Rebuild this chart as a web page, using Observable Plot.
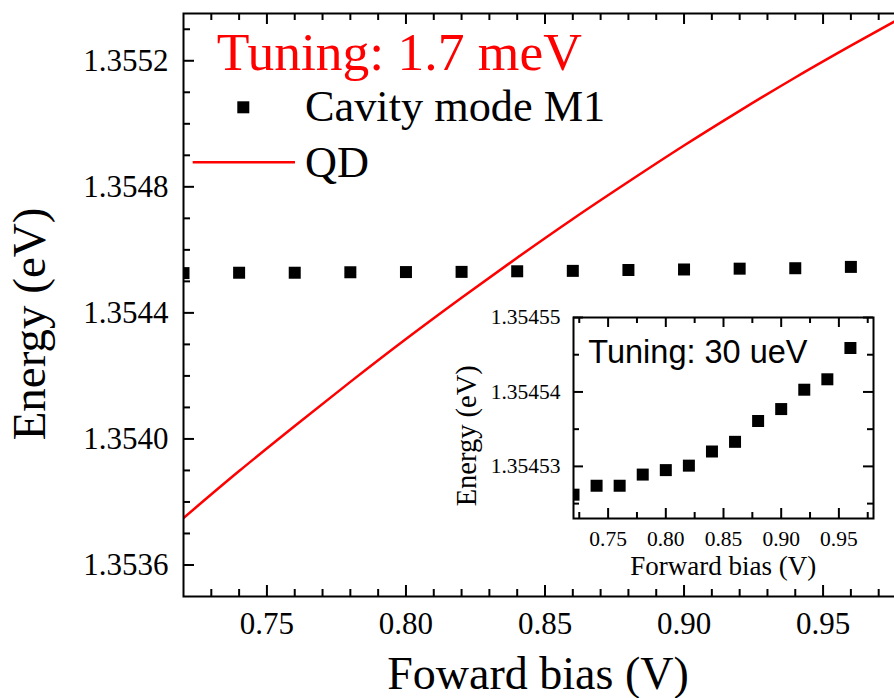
<!DOCTYPE html>
<html><head><meta charset="utf-8">
<script src="https://cdn.jsdelivr.net/npm/d3@7"></script>
<script src="https://cdn.jsdelivr.net/npm/@observablehq/plot@0.6"></script>
<style>
html,body{margin:0;padding:0;background:#fff;overflow:hidden;width:894px;height:698px;}
#wrap{position:relative;width:894px;height:698px;overflow:hidden;background:#fff;}
#wrap svg{position:absolute;overflow:visible;}
#wrap svg text{font-family:'Liberation Serif','Times New Roman',serif !important;font-variant:normal !important;}
#wrap svg text.sans{font-family:'Liberation Sans',Arial,sans-serif !important;}
</style></head><body><div id="wrap"></div>
<script>
// ---- data ----
const bias = [0.72,0.74,0.76,0.78,0.80,0.82,0.84,0.86,0.88,0.90,0.92,0.94,0.96];
const cavityEnergy = [1.3545262,1.3545274,1.3545274,1.3545289,1.3545295,1.3545301,1.3545320,1.3545333,1.3545361,1.3545377,1.3545403,1.3545417,1.3545459];
const qdBias = [0.72,0.74,0.76,0.78,0.80,0.82,0.84,0.86,0.88,0.90,0.92,0.94,0.96,0.98];
const qdEnergy = [1.353749,1.353898,1.354041,1.354181,1.354317,1.354448,1.354575,1.354698,1.354816,1.354931,1.355041,1.355147,1.355248,1.355346];

// ---- ticks / labels ----
const mainXTicks = [0.75,0.80,0.85,0.90,0.95];
const mainXMinor = [0.73,0.74,0.76,0.77,0.78,0.79,0.81,0.82,0.83,0.84,0.86,0.87,0.88,0.89,0.91,0.92,0.93,0.94,0.96,0.97];
const mainYTicks = [1.3536,1.3540,1.3544,1.3548,1.3552];
const mainYMinor = [1.3537,1.3538,1.3539,1.3541,1.3542,1.3543,1.3545,1.3546,1.3547,1.3549,1.3550,1.3551,1.3553];
const insetXTicks = [0.75,0.80,0.85,0.90,0.95];
const insetXMinor = [0.725,0.775,0.825,0.875,0.925,0.975];
const insetYTicks = [1.35453,1.35454,1.35455];
const insetYMinor = [1.354525,1.354535,1.354545];

const mainTitle = "Tuning: 1.7 meV";
const seriesNames = ["Cavity mode M1", "QD"];
const xLabel = "Foward bias (V)";
const yLabel = "Energy (eV)";
const insetNote = "Tuning: 30 ueV";
const insetXLabel = "Forward bias (V)";
const insetYLabel = "Energy (eV)";

const cavity = bias.map((b,i)=>({bias:b, energy:cavityEnergy[i]}));
const qd = qdBias.map((b,i)=>({bias:b, energy:qdEnergy[i]}));

const serif = "'Liberation Serif','Times New Roman',serif";
const wrap = document.getElementById("wrap");

function addText(sel, {x, y, text, size, cls = null, fill = "black", anchor = "start", rotate = 0}) {
  return sel.append("text")
    .attr("class", cls)
    .attr("transform", `translate(${x},${y})` + (rotate ? ` rotate(${rotate})` : ""))
    .attr("text-anchor", anchor).attr("font-size", size)
    .attr("fill", fill).attr("stroke", "none").text(text);
}

// ---- main plot ----
const W = 912, H = 698, mt = 13, mb = 102, ml = 183, mr = 6;
const ph = H - mt - mb, pw = W - ml - mr;
const main = Plot.plot({
  width: W, height: H,
  marginTop: mt, marginBottom: mb, marginLeft: ml, marginRight: mr,
  style: {fontFamily: serif, background: "transparent", maxWidth: "none", color: "black"},
  x: {domain: [0.72, 0.98]},
  y: {domain: [1.3535, 1.35535]},
  marks: [
    Plot.axisX(mainXTicks, {anchor: "bottom", tickSize: 0, tickPadding: 15, tickFormat: d => d.toFixed(2), fontSize: 31, label: null}),
    Plot.axisY(mainYTicks, {anchor: "left", tickSize: 0, tickPadding: 15, tickFormat: d => d.toFixed(4), fontSize: 31, label: null}),
    Plot.tickX(mainXTicks, {x: d => d, insetTop: ph - 11, strokeWidth: 2}),
    Plot.tickX(mainXTicks, {x: d => d, insetBottom: ph - 11, strokeWidth: 2}),
    Plot.tickX(mainXMinor, {x: d => d, insetTop: ph - 7, strokeWidth: 2}),
    Plot.tickX(mainXMinor, {x: d => d, insetBottom: ph - 7, strokeWidth: 2}),
    Plot.tickY(mainYTicks, {y: d => d, insetRight: pw - 11, strokeWidth: 2}),
    Plot.tickY(mainYTicks, {y: d => d, insetLeft: pw - 11, strokeWidth: 2}),
    Plot.tickY(mainYMinor, {y: d => d, insetRight: pw - 7, strokeWidth: 2}),
    Plot.tickY(mainYMinor, {y: d => d, insetLeft: pw - 7, strokeWidth: 2}),
    Plot.line(qd, {x: "bias", y: "energy", stroke: "#ff0000", strokeWidth: 2.5, curve: "monotone-x", clip: true}),
    Plot.dot(cavity, {x: "bias", y: "energy", symbol: "square", r: 6.77, fill: "black", stroke: "none", clip: true}),
    Plot.frame({stroke: "black", strokeWidth: 2})
  ]
});
main.style.left = "0px"; main.style.top = "0px";
wrap.appendChild(main);

const ms = d3.select(main);
addText(ms, {x: 45, y: 324, text: yLabel, size: 47, anchor: "middle", rotate: -90});
addText(ms, {x: 538, y: 689, text: xLabel, size: 46, anchor: "middle"});
// legend
addText(ms, {x: 216.7, y: 70, text: mainTitle, size: 53.5, fill: "#ff0000"});
ms.append("rect").attr("x", 237.3).attr("y", 101.3).attr("width", 12).attr("height", 12).attr("fill", "black");
addText(ms, {x: 305, y: 120.7, text: seriesNames[0], size: 44.3});
ms.append("line").attr("x1", 192.7).attr("x2", 295).attr("y1", 162.3).attr("y2", 162.3).attr("stroke", "#ff0000").attr("stroke-width", 2.5);
addText(ms, {x: 305, y: 176.7, text: seriesNames[1], size: 44.3});

// ---- inset ----
const IW = 444, IH = 300, imt = 17, imb = 82, iml = 123, imr = 21;
const iph = IH - imt - imb, ipw = IW - iml - imr;
const inset = Plot.plot({
  width: IW, height: IH,
  marginTop: imt, marginBottom: imb, marginLeft: iml, marginRight: imr,
  style: {fontFamily: serif, background: "transparent", maxWidth: "none", color: "black"},
  x: {domain: [0.72, 0.98]},
  y: {domain: [1.354523, 1.35455]},
  marks: [
    Plot.axisX(insetXTicks, {anchor: "bottom", tickSize: 0, tickPadding: 12, tickFormat: d => d.toFixed(2), fontSize: 21.5, label: null}),
    Plot.axisY(insetYTicks, {anchor: "left", tickSize: 0, tickPadding: 13, tickFormat: d => d.toFixed(5), fontSize: 21.5, label: null}),
    Plot.tickX(insetXTicks, {x: d => d, insetTop: iph - 10, strokeWidth: 2}),
    Plot.tickX(insetXTicks, {x: d => d, insetBottom: iph - 10, strokeWidth: 2}),
    Plot.tickX(insetXMinor, {x: d => d, insetTop: iph - 6, strokeWidth: 2}),
    Plot.tickX(insetXMinor, {x: d => d, insetBottom: iph - 6, strokeWidth: 2}),
    Plot.tickY(insetYTicks, {y: d => d, insetRight: ipw - 10, strokeWidth: 2}),
    Plot.tickY(insetYTicks, {y: d => d, insetLeft: ipw - 10, strokeWidth: 2}),
    Plot.tickY(insetYMinor, {y: d => d, insetRight: ipw - 6, strokeWidth: 2}),
    Plot.tickY(insetYMinor, {y: d => d, insetLeft: ipw - 6, strokeWidth: 2}),
    Plot.dot(cavity, {x: "bias", y: "energy", symbol: "square", r: 6.77, fill: "black", stroke: "none", clip: true}),
    Plot.frame({stroke: "black", strokeWidth: 2})
  ]
});
inset.style.left = "450px"; inset.style.top = "300px";
wrap.appendChild(inset);

const is = d3.select(inset);
addText(is, {x: 138.3, y: 63.3, text: insetNote, size: 32.5, cls: "sans"});
addText(is, {x: 26, y: 135.8, text: insetYLabel, size: 28.5, anchor: "middle", rotate: -90});
addText(is, {x: 273.3, y: 275, text: insetXLabel, size: 27, anchor: "middle"});
</script></body></html>
